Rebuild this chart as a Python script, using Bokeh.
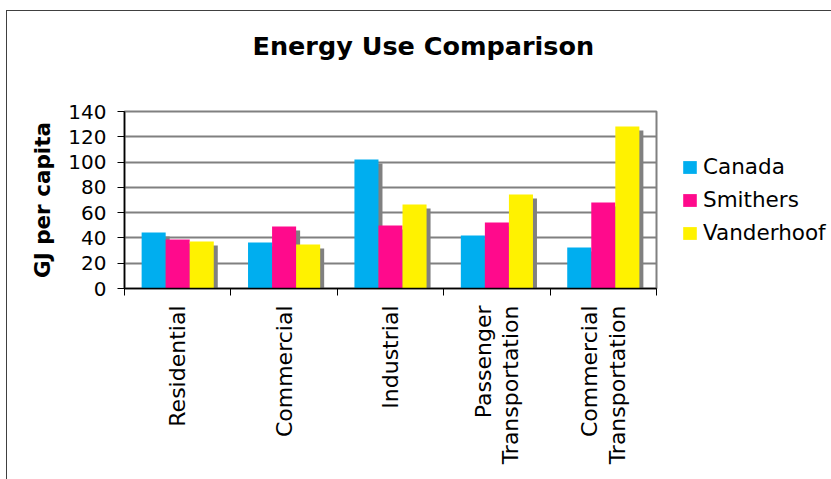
import math
from bokeh.plotting import figure
from bokeh.models import FixedTicker, Legend, LegendItem, ColumnDataSource
from bokeh.embed import file_html
from bokeh.resources import INLINE

# ---------------- data ----------------
categories = ["Residential", "Commercial", "Industrial",
              "Passenger\nTransportation", "Commercial\nTransportation"]
series_names = ["Canada", "Smithers", "Vanderhoof"]
canada = [44.3, 36.4, 102.0, 41.9, 32.4]
smithers = [38.8, 49.1, 49.8, 52.2, 68.0]
vanderhoof = [37.2, 34.8, 66.5, 74.4, 128.2]
y_ticks = [0, 20, 40, 60, 80, 100, 120, 140]
title_text = "Energy Use Comparison"
y_title = "GJ per capita"

# ---------------- styles ----------------
colors = ["#00AEEF", "#FF0A8C", "#FFF200"]
shadow_color = "#808080"
FONT = "DejaVu Sans"
FRAME_W, FRAME_H = 532, 177
LEFT, RIGHT, TOP, BOTTOM = 117, 175, 100, 191
y_max = 140
n_cat = len(categories)
bar_w = 0.226
line_sep = 0.26
shadow_dx = 4 * n_cat / FRAME_W
shadow_dy = 4 * y_max / FRAME_H

p = figure(frame_width=FRAME_W, frame_height=FRAME_H,
           x_range=(0, n_cat), y_range=(0, y_max),
           output_backend="svg", toolbar_location=None,
           min_border_left=LEFT, min_border_right=RIGHT,
           min_border_top=TOP, min_border_bottom=BOTTOM)
p.background_fill_color = "white"
p.border_fill_color = "white"
p.outline_line_color = "#808080"
p.outline_line_width = 2
p.styles = {"margin-left": "6px", "margin-top": "10px",
            "border-top": "1px solid #404040", "border-left": "1px solid #404040"}

# trailing blank line lifts the title away from the plot area
p.title.text = title_text + "\n "
p.title.align = "left"
p.title.offset = 128
p.title.standoff = 38
p.title.vertical_align = "top"
p.title.text_font = FONT
p.title.text_font_size = "25.5px"
p.title.text_font_style = "bold"
p.title.text_color = "black"

centers = [i + 0.5 for i in range(n_cat)]
offsets = [-bar_w, 0.0, bar_w]
renderers = []
for k, (vals, col) in enumerate(zip([canada, smithers, vanderhoof], colors)):
    xs = [c + offsets[k] for c in centers]
    src = ColumnDataSource(dict(x=xs, top=vals,
                                sx=[x + shadow_dx for x in xs],
                                stop=[v - shadow_dy for v in vals]))
    p.vbar(x="sx", top="stop", bottom=0, width=bar_w, source=src,
           fill_color=shadow_color, line_color=None)
    r = p.vbar(x="x", top="top", bottom=0, width=bar_w, source=src,
               fill_color=col, line_color=None)
    renderers.append(r)

# x axis: category labels (one tick per text line), boundary tick marks
tick_pos = []
overrides = {}
for i, cat in enumerate(categories):
    lines = cat.split("\n")
    n = len(lines)
    for j, line in enumerate(lines):
        pos = round(i + 0.5 + (j - (n - 1) / 2) * line_sep, 3)
        tick_pos.append(pos)
        overrides[pos] = line
xa = p.xaxis[0]
xa.ticker = FixedTicker(ticks=tick_pos, minor_ticks=list(range(n_cat + 1)))
xa.major_label_overrides = overrides
xa.major_tick_out = 0
xa.major_tick_in = 0
xa.minor_tick_out = 7
xa.minor_tick_in = 0
xa.minor_tick_line_color = "black"
xa.major_label_orientation = math.pi / 2
xa.major_label_standoff = 10
xa.major_label_text_font = FONT
xa.major_label_text_font_size = "22px"
xa.major_label_text_color = "black"
xa.axis_line_color = "black"
xa.axis_line_width = 1.5

ya = p.yaxis[0]
ya.ticker = FixedTicker(ticks=y_ticks)
ya.major_tick_out = 7
ya.major_tick_in = 0
ya.minor_tick_line_color = None
ya.major_tick_line_color = "black"
ya.major_label_standoff = 11
ya.major_label_text_font = FONT
ya.major_label_text_font_size = "20px"
ya.major_label_text_color = "black"
ya.axis_line_color = "black"
ya.axis_line_width = 1.5
ya.axis_label = y_title
ya.axis_label_text_font = FONT
ya.axis_label_text_font_size = "21.5px"
ya.axis_label_text_font_style = "bold"
ya.axis_label_text_color = "black"
ya.axis_label_standoff = 10

p.xgrid.visible = False
p.ygrid.ticker = FixedTicker(ticks=y_ticks)
p.ygrid.grid_line_color = "#808080"
p.ygrid.grid_line_width = 2

legend = Legend(items=[LegendItem(label=n, renderers=[r]) for n, r in zip(series_names, renderers)],
                location=(25, 43), margin=0, padding=0,
                glyph_width=17, glyph_height=16, label_standoff=5,
                label_height=24, spacing=8,
                label_text_font=FONT, label_text_font_size="21.5px",
                label_text_color="black",
                border_line_color=None, background_fill_alpha=0)
p.add_layout(legend, "right")

open("out.html", "w").write(file_html(p, INLINE))
